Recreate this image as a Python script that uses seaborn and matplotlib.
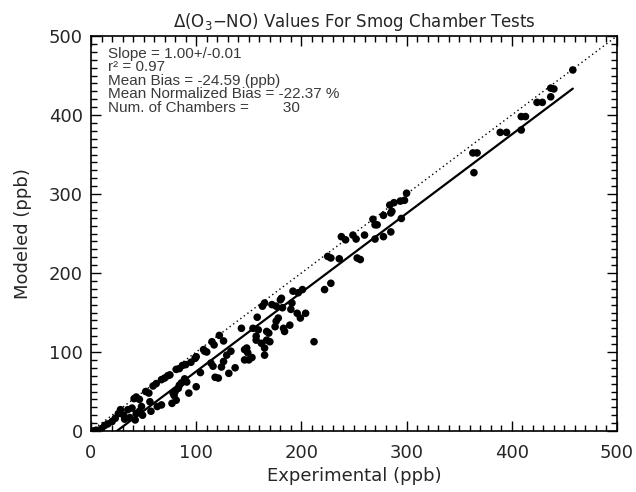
import matplotlib
matplotlib.use("Agg")
import matplotlib.pyplot as plt
import seaborn as sns
import numpy as np
import pandas as pd
from matplotlib.ticker import MultipleLocator

# ---- data ----
experimental = [
    2, 5, 7, 10, 13, 16, 20, 23, 26, 28, 31, 32, 35, 37, 39, 42, 43, 46, 41, 43, 46, 48, 49,
    52, 55, 56, 57, 59, 62, 63, 67, 67, 70, 73, 75, 77, 79, 81, 78, 80, 83, 84, 86, 89, 91, 93,
    81, 84, 87, 90, 95, 99, 100, 100,
    104, 108, 110, 107, 115, 117, 116, 114, 118, 121, 122, 124, 126, 126, 129, 131, 133, 137,
    143, 146, 148, 146, 149, 153, 150,
    154, 159, 157, 157, 158, 162, 163, 165, 165, 165, 167, 167, 170, 169, 172, 175, 176, 178,
    176, 180, 182, 183, 184, 189, 191, 190, 192, 196, 197, 199, 201, 204, 181,
    212, 222, 225, 228, 236, 228, 238, 242, 249, 252, 253, 256, 260, 268, 270, 272, 278, 285,
    286, 284, 288, 294, 298, 300, 295, 285, 278, 270,
    363, 367, 364, 389, 395, 409, 413, 409, 424, 429, 437, 440, 437, 458,
]
modeled = [
    0, 1, 0, 3, 7, 9, 12, 16, 22, 27, 20, 15, 27, 17, 29, 14, 22, 25, 41, 43, 40, 31, 20,
    50, 48, 37, 25, 57, 60, 31, 33, 65, 67, 70, 71, 35, 45, 39, 48, 50, 54, 58, 61, 66, 62, 48,
    78, 79, 83, 84, 87, 92, 56, 94,
    74, 101, 100, 103, 113, 109, 82, 86, 68, 67, 121, 81, 88, 114, 96, 73, 101, 80,
    130, 90, 105, 103, 99, 93, 90,
    130, 128, 120, 115, 144, 111, 158, 162, 105, 96, 126, 115, 113, 124, 160, 132, 139, 143,
    158, 166, 156, 130, 126, 134, 162, 154, 177, 149, 175, 143, 179, 149, 168,
    113, 179, 221, 219, 218, 187, 246, 242, 248, 243, 219, 217, 248, 268, 261, 261, 273, 276,
    278, 286, 289, 291, 292, 301, 269, 252, 246, 243,
    352, 352, 327, 378, 378, 398, 398, 381, 416, 416, 434, 433, 423, 457,
]
fit_slope = 1.00
fit_intercept = -24.59
one_to_one = [0, 500]

title = r"$\Delta$(O$_3$$-$NO) Values For Smog Chamber Tests"
x_label = "Experimental (ppb)"
y_label = "Modeled (ppb)"
stats_lines = [
    "Slope = 1.00+/-0.01",
    "r\u00b2 = 0.97",
    "Mean Bias = -24.59 (ppb)",
    "Mean Normalized Bias = -22.37 %",
    "Num. of Chambers =        30",
]

df = pd.DataFrame({"Experimental": experimental, "Modeled": modeled})
xfit = np.array([min(experimental), max(experimental)], dtype=float)
fit_df = pd.DataFrame({"x": xfit, "y": fit_slope * xfit + fit_intercept})
one_df = pd.DataFrame({"x": one_to_one, "y": one_to_one})

sns.set_theme(style="ticks")
plt.rcParams["font.family"] = ["DejaVu Sans"]

fig = plt.figure(figsize=(6.36, 4.92), dpi=100)
ax = fig.add_axes([91 / 636, 1 - 431 / 492, 526 / 636, 395 / 492])

sns.lineplot(data=one_df, x="x", y="y", ax=ax, color="black", lw=1.0,
             linestyle=(0, (1, 2.2)))
sns.lineplot(data=fit_df, x="x", y="y", ax=ax, color="black", lw=1.6)
sns.scatterplot(data=df, x="Experimental", y="Modeled", ax=ax, color="black",
                s=30, edgecolor="none", linewidth=0)

ax.set_xlim(0, 500)
ax.set_ylim(0, 500)
ax.xaxis.set_major_locator(MultipleLocator(100))
ax.yaxis.set_major_locator(MultipleLocator(100))
ax.xaxis.set_minor_locator(MultipleLocator(10))
ax.yaxis.set_minor_locator(MultipleLocator(10))
ax.tick_params(which="both", direction="in", top=True, right=True, color="black")
ax.tick_params(which="major", length=7.5, width=1.0, labelsize=13, pad=9)
ax.tick_params(axis="y", which="major", pad=6)
ax.tick_params(which="minor", length=4, width=1.0)
for sp in ax.spines.values():
    sp.set_color("black")
    sp.set_linewidth(1.2)

ax.set_xlabel(x_label, fontsize=13, labelpad=4)
ax.set_ylabel(y_label, fontsize=13, labelpad=12)

fig.text(354 / 636, 1 - 27 / 492, title, ha="center", va="baseline", fontsize=12)

for i, line in enumerate(stats_lines):
    ax.text(108 / 636, 1 - (58 + 13.4 * i) / 492, line, transform=fig.transFigure,
            ha="left", va="baseline", fontsize=11, color="#3a3a3a",
            family=["Liberation Sans", "DejaVu Sans"])

fig.savefig("out.png", dpi=100)
